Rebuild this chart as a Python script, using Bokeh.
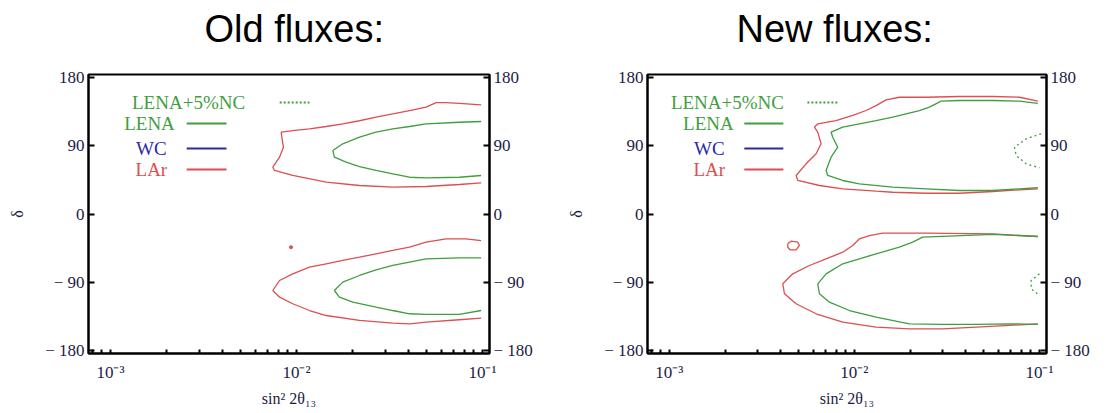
import numpy as np
from bokeh.plotting import figure
from bokeh.models import Range1d, FixedTicker, LinearAxis, Title
from bokeh.layouts import row
from bokeh.embed import file_html
from bokeh.resources import INLINE
from bokeh.core.properties import value

# ---------------- data: x = log10(sin^2 2theta13), y = delta (deg) ----------------
# Old fluxes
old_lar_up_lg = [-1.007, -1.124, -1.195, -1.249, -1.303, -1.392, -1.482, -1.572, -1.661, -1.751, -1.840, -1.930,
                 -2.020, -2.082, -2.077, -2.070, -2.091, -2.127, -2.118, -2.020, -1.840, -1.661, -1.482, -1.303,
                 -1.124, -1.007]
old_lar_up_d = [144, 146, 147, 147, 141, 136.5, 132, 127.7, 123, 119, 115.4, 112.3, 110, 108, 99, 88, 75, 61.7,
                57.4, 50.8, 42, 37.6, 35.4, 36.3, 38.9, 41]
old_lena_up_lg = [-1.007, -1.124, -1.303, -1.392, -1.482, -1.572, -1.661, -1.751, -1.804, -1.796, -1.733, -1.661,
                  -1.572, -1.482, -1.392, -1.303, -1.124, -1.007]
old_lena_up_d = [122, 121, 119, 115.4, 112.3, 108, 101.3, 92.6, 83.7, 75, 68.3, 62.6, 57.4, 53, 48.5, 47.7, 48.5, 50.8]
old_lar_lo_lg = [-1.007, -1.088, -1.195, -1.303, -1.392, -1.482, -1.572, -1.661, -1.751, -1.840, -1.930, -2.020,
                 -2.091, -2.127, -2.091, -2.020, -1.930, -1.840, -1.661, -1.482, -1.392, -1.303, -1.124, -1.007]
old_lar_lo_d = [-35, -32.8, -32.8, -37.2, -43.8, -48.1, -52.5, -57, -61.3, -65.7, -70.2, -78.9, -87.7, -100.9,
                -109.7, -118.4, -127.3, -133.9, -140.4, -144, -144.8, -142.7, -139.5, -137.4]
old_lena_lo_lg = [-1.007, -1.124, -1.303, -1.392, -1.482, -1.572, -1.661, -1.751, -1.796, -1.769, -1.697, -1.572,
                  -1.482, -1.392, -1.303, -1.124, -1.007]
old_lena_lo_d = [-57.8, -57.8, -59.1, -63.5, -67.9, -73.6, -81.1, -89.9, -100.9, -109.7, -116.3, -122.9, -127.3,
                 -131.6, -132.5, -132.5, -127.3]
old_lar_dot_lg = [-2.029]
old_lar_dot_d = [-43.8]

# New fluxes
new_lar_up_lg = [-1.009, -1.108, -1.252, -1.432, -1.612, -1.757, -1.829, -1.883, -1.937, -2.009, -2.099, -2.198,
                 -2.216, -2.198, -2.180, -2.207, -2.261, -2.315, -2.306, -2.189, -2.063, -1.883, -1.793, -1.612,
                 -1.432, -1.252, -1.108, -1.009]
new_lar_up_d = [148.8, 154, 155, 155, 154, 154, 150.6, 143, 136.5, 130, 123.3, 119, 114.5, 107.9, 92.6, 79.4, 66.2,
                50.8, 44.2, 37.6, 33.2, 30.1, 28.7, 27.4, 27.4, 29.7, 31.9, 33.2]
new_lena_up_lg = [-1.009, -1.108, -1.252, -1.432, -1.531, -1.595, -1.649, -1.721, -1.793, -1.883, -1.973, -2.063,
                  -2.126, -2.117, -2.090, -2.126, -2.153, -2.144, -2.063, -1.973, -1.793, -1.612, -1.432, -1.252,
                  -1.009]
new_lena_up_d = [146, 148.8, 149.7, 149.7, 148.8, 140.9, 136.5, 132.1, 127.7, 123.3, 119, 114.5, 107.9, 101.3, 88.1,
                 74.9, 57.4, 50.8, 44.2, 39.8, 35.4, 33.2, 31, 31, 34.6]
new_nc_up_lg = [-0.991, -1.072, -1.135, -1.126, -1.072, -1.0]
new_nc_up_d = [105.8, 99.2, 88.1, 77.1, 66.2, 60.9]
new_lar_lo_lg = [-1.009, -1.252, -1.612, -1.847, -1.919, -1.973, -2.009, -2.063, -2.153, -2.243, -2.333, -2.387,
                 -2.378, -2.315, -2.207, -2.063, -1.883, -1.703, -1.523, -1.342, -1.162, -1.009]
new_lar_lo_d = [-29.7, -26.1, -25.3, -25.3, -28.4, -32.7, -41.5, -50.4, -59.1, -67.9, -78.9, -92.1, -105.2, -118.4,
                -131.6, -142.7, -149.3, -151.4, -151.4, -149.3, -147, -144.8]
new_lena_lo_lg = [-1.009, -1.252, -1.631, -1.685, -1.757, -1.883, -1.973, -2.063, -2.153, -2.198, -2.189, -2.135,
                  -2.027, -1.883, -1.703, -1.523, -1.342, -1.162, -1.009]
new_lena_lo_d = [-29.7, -27, -30.6, -37.2, -43.8, -52.5, -59.1, -65.7, -78.9, -92.1, -105.2, -116.3, -127.3, -136.1,
                 -144.8, -145.7, -145.7, -144.8, -145.7]
new_nc_lo_lg = [-1.0, -1.045, -1.045, -1.0]
new_nc_lo_d = [-78.9, -87.7, -98.6, -107.5]
new_lar_isl_lg = [-2.360, -2.342, -2.306, -2.297, -2.315, -2.347, -2.360, -2.360]
new_lar_isl_d = [-39.3, -35.9, -37.2, -41.5, -47.2, -47.2, -43.8, -39.3]

# axes / labels
y_ticks = [-180, -90, 0, 90, 180]
y_tick_labels = ["\u2212 180", "\u2212 90", "0", "90", "180"]
x_ticks = [1e-3, 1e-2, 1e-1]
x_tick_labels = ["10\u207b\u00b3", "10\u207b\u00b2", "10\u207b\u00b9"]
legend_labels = ["LENA+5%NC", "LENA", "WC", "LAr"]
titles = ["Old fluxes:", "New fluxes:"]

RED = "#dc4f52"
GREEN = "#3f9e3f"
BLUE = "#2b2ba6"
legend_colors = [GREEN, GREEN, BLUE, RED]
TICKCOL = "#1c1c44"
SERIF = "Liberation Serif"

XLO, XHI = -3.118, -0.962


def make_fig(title, left_b, fw, right_b, title_off, leg_x, leg_y, dot_x, sol_x):
    p = figure(x_axis_type="log", x_range=Range1d(10 ** XLO, 10 ** XHI), y_range=Range1d(-184, 184),
               frame_width=fw, frame_height=279, min_border_left=left_b, min_border_right=right_b,
               min_border_top=0, min_border_bottom=56, output_backend="svg", toolbar_location=None,
               background_fill_color="white", border_fill_color="white")
    # real title (outer) + blank spacer title between it and the frame
    p.title.text = title
    p.title.text_font = "Liberation Sans"
    p.title.text_font_size = "38px"
    p.title.text_font_style = "normal"
    p.title.text_color = "black"
    p.title.align = "left"
    p.title.offset = title_off
    p.title.vertical_align = "middle"
    p.title.standoff = 12
    p.add_layout(Title(text=" ", text_font_size="1px", standoff=15), "above")
    p.grid.visible = False
    p.outline_line_color = "black"
    p.outline_line_width = 2
    p.outline_line_alpha = 1

    minor = [k * 10.0 ** e for e in (-4, -3, -2) for k in range(2, 10)]
    p.xaxis.ticker = FixedTicker(ticks=x_ticks, minor_ticks=minor)
    p.xaxis.major_label_overrides = {t: l for t, l in zip(x_ticks, x_tick_labels)}
    p.xaxis.axis_label = "sin\u00b2 2\u03b8\u2081\u2083"

    p.yaxis.ticker = FixedTicker(ticks=y_ticks)
    p.yaxis.major_label_overrides = {t: l for t, l in zip(y_ticks, y_tick_labels)}
    p.yaxis.axis_label = "\u03b4"
    rax = LinearAxis(ticker=FixedTicker(ticks=y_ticks),
                     major_label_overrides={t: l for t, l in zip(y_ticks, y_tick_labels)})
    p.add_layout(rax, "right")

    for ax in [p.xaxis[0], p.yaxis[0], rax]:
        ax.axis_line_color = "black"
        ax.axis_line_width = 2
        ax.major_tick_in = 6
        ax.major_tick_out = 0
        ax.major_tick_line_width = 2
        ax.major_tick_line_color = "black"
        ax.minor_tick_in = 4
        ax.minor_tick_out = 0
        ax.minor_tick_line_width = 2
        ax.minor_tick_line_color = "black"
        ax.major_label_text_font = SERIF
        ax.major_label_text_font_size = "17px"
        ax.major_label_text_color = TICKCOL
        ax.major_label_standoff = 4
        ax.axis_label_text_font = SERIF
        ax.axis_label_text_font_size = "16px"
        ax.axis_label_text_font_style = "normal"
        ax.axis_label_text_color = TICKCOL
    p.yaxis[0].minor_tick_line_color = None
    rax.minor_tick_line_color = None
    p.xaxis[0].major_tick_in = 4
    p.xaxis[0].major_label_standoff = 9
    p.xaxis[0].axis_label_standoff = 5
    p.yaxis[0].axis_label_standoff = 16

    # legend (drawn inside frame)
    p.text(x=[10 ** v for v in leg_x], y=leg_y, text=legend_labels,
           text_color=legend_colors, text_font=value(SERIF), text_font_size="19px",
           text_align="center", text_baseline="middle")
    p.line([10 ** v for v in dot_x], [leg_y[0]] * 2, line_color=GREEN, line_width=2, line_dash="2 2")
    for i in range(1, 4):
        p.line([10 ** v for v in sol_x], [leg_y[i]] * 2, line_color=legend_colors[i], line_width=2)
    return p


def L(lg):
    return [10 ** v for v in lg]


p1 = make_fig(titles[0], 88, 401, 55, 116,
              [-2.58, -2.79, -2.78, -2.78], [147, 119.3, 86.4, 58.7], [-2.09, -1.93], [-2.59, -2.376])
for xs, ys, c in [(old_lar_up_lg, old_lar_up_d, RED), (old_lena_up_lg, old_lena_up_d, GREEN),
                  (old_lar_lo_lg, old_lar_lo_d, RED), (old_lena_lo_lg, old_lena_lo_d, GREEN)]:
    p1.line(L(xs), ys, line_color=c, line_width=1.3)
p1.scatter(L(old_lar_dot_lg), old_lar_dot_d, size=3, color=RED)

p2 = make_fig(titles[1], 103, 399, 44, 89,
              [-2.686, -2.789, -2.784, -2.784], [147, 119.3, 86.4, 58.7], [-2.254, -2.092], [-2.595, -2.384])
for xs, ys, c in [(new_lar_up_lg, new_lar_up_d, RED), (new_lena_up_lg, new_lena_up_d, GREEN),
                  (new_lar_lo_lg, new_lar_lo_d, RED), (new_lena_lo_lg, new_lena_lo_d, GREEN),
                  (new_lar_isl_lg, new_lar_isl_d, RED)]:
    p2.line(L(xs), ys, line_color=c, line_width=1.3)
for xs, ys in [(new_nc_up_lg, new_nc_up_d), (new_nc_lo_lg, new_nc_lo_d)]:
    p2.line(L(xs), ys, line_color=GREEN, line_width=1.3, line_dash="2 3")

layout = row(p1, p2)
open("out.html", "w").write(file_html(layout, INLINE))
